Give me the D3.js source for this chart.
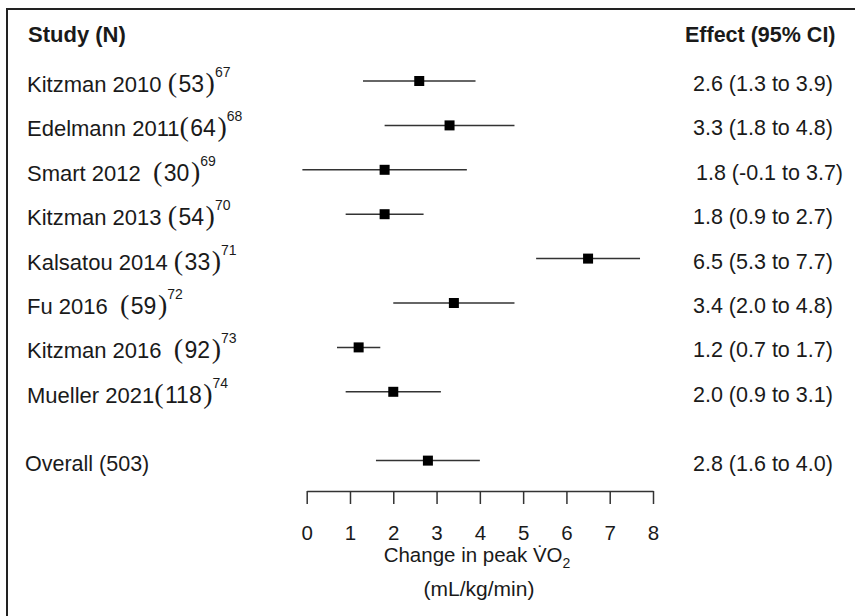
<!DOCTYPE html>
<html>
<head>
<meta charset="utf-8">
<script src="https://cdn.jsdelivr.net/npm/d3@7"></script>
<style>
  html, body { margin: 0; padding: 0; background: #fff; }
  svg { display: block; font-family: "Liberation Sans", Arial, sans-serif; }
  text { white-space: pre; fill: #1a1a1a; }
</style>
</head>
<body>
<svg id="chart" width="855" height="616"></svg>
<script>
// Datos
const studyNames = ["Kitzman 2010 ", "Edelmann 2011", "Smart 2012  ", "Kitzman 2013 ",
  "Kalsatou 2014 ", "Fu 2016  ", "Kitzman 2016  ", "Mueller 2021"];
const sampleSizes = [53, 64, 30, 54, 33, 59, 92, 118];
const refs = ["67", "68", "69", "70", "71", "72", "73", "74"];
const effects = [2.6, 3.3, 1.8, 1.8, 6.5, 3.4, 1.2, 2.0];
const lower = [1.3, 1.8, -0.1, 0.9, 5.3, 2.0, 0.7, 0.9];
const upper = [3.9, 4.8, 3.7, 2.7, 7.7, 4.8, 1.7, 3.1];
const overall = { label: "Overall (503)", effect: 2.8, lower: 1.6, upper: 4.0 };
const xTicks = [0, 1, 2, 3, 4, 5, 6, 7, 8];

const svg = d3.select("#chart");
// guion normal en vez del signo menos unicode
const fmt = d3.formatLocale({ decimal: ".", thousands: ",", grouping: [3], currency: ["", ""], minus: "-" }).format(".1f");

// Marco (solo borde izquierdo y superior visibles)
svg.append("path")
  .attr("d", "M7,620V9H860")
  .attr("fill", "none")
  .attr("stroke", "#222")
  .attr("stroke-width", 2);

// Escalas
const x = d3.scaleLinear().domain([0, 8]).range([306.7, 653]);
const y = d3.scaleLinear().domain([0, 1]).range([81, 125.4]);
const overallPos = studyNames.length + 0.55;

const rows = studyNames.map((name, i) => ({
  name, n: sampleSizes[i], ref: refs[i],
  effect: effects[i], lower: lower[i], upper: upper[i], pos: i
}));
const allRows = rows.concat([{ ...overall, pos: overallPos }]);

// Encabezados
svg.append("text").attr("x", 28).attr("y", 42)
  .style("font-size", "22px").style("font-weight", "bold").text("Study (N)");
svg.append("text").attr("x", 685).attr("y", 42)
  .style("font-size", "21.5px").style("font-weight", "bold").text("Effect (95% CI)");

// Etiquetas de estudios
const labels = svg.selectAll(".study-label")
  .data(rows)
  .enter()
  .append("text")
  .attr("class", "study-label")
  .attr("x", 27)
  .attr("y", (d) => y(d.pos) + 11)
  .style("font-size", "22px");

const paren = (sel, ch, dx) => sel.append("tspan")
  .attr("dx", dx)
  .style("font-family", "'Liberation Serif', serif")
  .style("font-size", "28px")
  .text(ch);

labels.append("tspan").text((d) => d.name);
paren(labels, "(", 0);
labels.append("tspan").attr("dx", 1.5).style("font-size", "23px").text((d) => d.n);
paren(labels, ")", 1.5);
labels.append("tspan").attr("dx", 0).attr("dy", -15).style("font-size", "14px").text((d) => d.ref);

svg.append("text").attr("x", 25).attr("y", y(overallPos) + 10)
  .style("font-size", "21.5px").text(overall.label);

// Columna de efectos
svg.selectAll(".effect-label")
  .data(allRows)
  .enter()
  .append("text")
  .attr("class", "effect-label")
  .attr("x", (d) => (d.lower < 0 ? 696 : 693))
  .attr("y", (d) => y(d.pos) + 10)
  .style("font-size", "21.5px")
  .text((d) => `${fmt(d.effect)} (${fmt(d.lower)} to ${fmt(d.upper)})`);

// Intervalos de confianza y cuadrados
svg.selectAll(".ci")
  .data(allRows)
  .enter()
  .append("line")
  .attr("class", "ci")
  .attr("x1", (d) => x(d.lower))
  .attr("x2", (d) => x(d.upper))
  .attr("y1", (d) => y(d.pos))
  .attr("y2", (d) => y(d.pos))
  .attr("stroke", "#333")
  .attr("stroke-width", 1.5);

svg.selectAll(".est")
  .data(allRows)
  .enter()
  .append("rect")
  .attr("class", "est")
  .attr("x", (d) => x(d.effect) - 5)
  .attr("y", (d) => y(d.pos) - 5)
  .attr("width", 10)
  .attr("height", 10)
  .attr("fill", "#000");

// Eje
const axis = svg.append("g")
  .attr("transform", "translate(0,491)")
  .call(d3.axisBottom(x).tickValues(xTicks).tickFormat(d3.format("d")).tickSize(13).tickSizeOuter(0).tickPadding(21));
axis.select(".domain").attr("stroke", "#333").attr("stroke-width", 1.5);
axis.selectAll(".tick line").attr("stroke", "#333").attr("stroke-width", 1.5);
axis.selectAll(".tick text")
  .attr("fill", "#1a1a1a")
  .style("font-size", "20.5px")
  .style("font-family", "'Liberation Sans', Arial, sans-serif");

const title = svg.append("text")
  .attr("x", 477)
  .attr("y", 562)
  .attr("text-anchor", "middle")
  .style("font-size", "20.5px");
title.append("tspan").text("Change in peak V\u0307O");
title.append("tspan").attr("dy", 6).style("font-size", "14px").text("2");

svg.append("text")
  .attr("x", 479)
  .attr("y", 596)
  .attr("text-anchor", "middle")
  .style("font-size", "21px")
  .text("(mL/kg/min)");
</script>
</body>
</html>
